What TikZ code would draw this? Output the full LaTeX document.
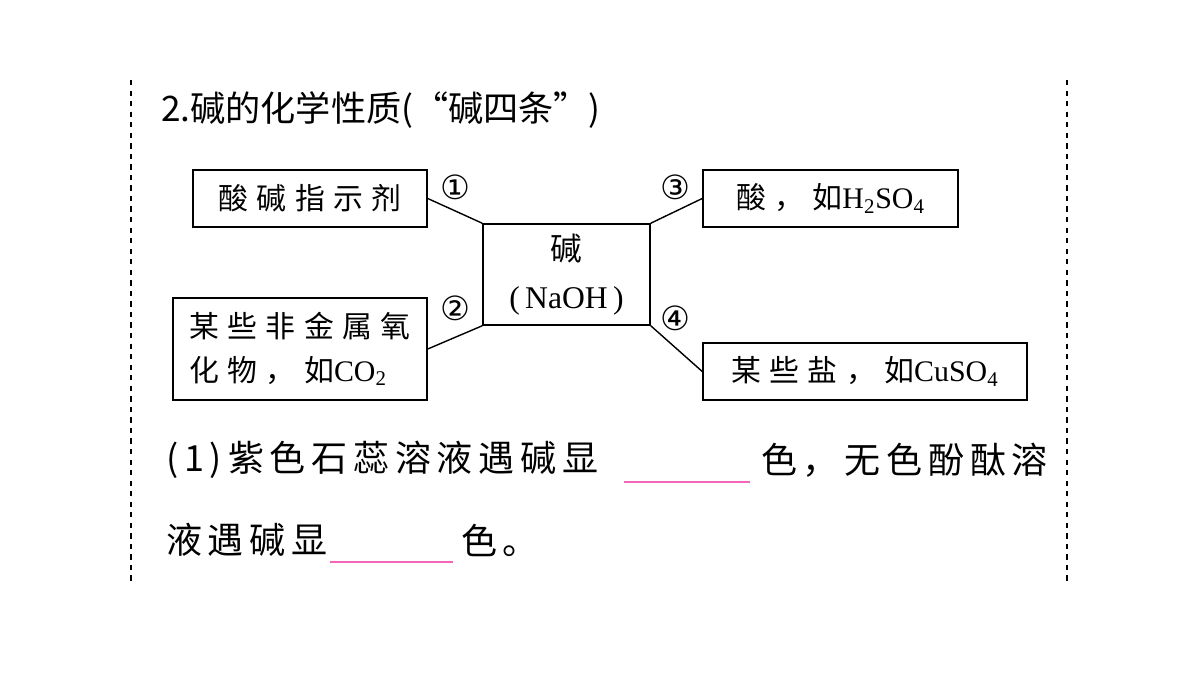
\documentclass[tikz,border=0pt]{standalone}
\usepackage{fontspec}
\setmainfont{Liberation Serif}
\newfontfamily\cjk{Noto Sans CJK SC}
\newfontfamily\cjkbox[LetterSpace=28]{Noto Sans CJK SC}
\newfontfamily\cjkbody[LetterSpace=16]{Noto Sans CJK SC}
\newfontfamily\sym{DejaVu Sans}
\usetikzlibrary{positioning}
\begin{document}
\begin{tikzpicture}[x=0.02cm,y=-0.02cm,
    box/.style={draw, line width=0.9pt, inner sep=0pt, font=\fontsize{17}{25}\selectfont},
    num/.style={font=\sym\fontsize{19}{19}\selectfont},
    txt/.style={anchor=west, font=\cjkbody\fontsize{20.5}{20.5}\selectfont},
    blank/.style={draw=magenta!60, line width=0.6pt}
  ]
  \useasboundingbox (0,0) rectangle (1200,675);
  % page edges
  \draw[dashed, line width=0.8pt] (131,80) -- (131,585);
  \draw[dashed, line width=0.8pt] (1067,80) -- (1067,585);
  \node[anchor=west, font=\cjk\fontsize{20}{20}\selectfont] (title) at (155,110) {2.碱的化学性质(“碱四条”)};

  % boxes
  \node[box, minimum width=4.68cm, minimum height=1.14cm] (indic) at (310,198.5) {\cjkbox 酸碱指示剂};
  \node[box, minimum width=3.34cm, minimum height=2.02cm, align=center, font=\fontsize{18}{27}\selectfont] (base) at (566.5,274.5) {{\cjk 碱}\\(\,NaOH\,)};
  \node[box, minimum width=5.1cm, minimum height=1.14cm] (acid) at (830.5,198.5) {{\cjkbox 酸，如}H\textsubscript{2}SO\textsubscript{4}};
  \node[box, minimum width=5.08cm, minimum height=2.04cm, align=left] (oxide) at (300,349) {{\cjkbox 某些非金属氧}\\{\cjkbox 化物，如}CO\textsubscript{2}};
  \node[box, minimum width=6.48cm, minimum height=1.14cm] (salt) at (865,371.5) {{\cjkbox 某些盐，如}CuSO\textsubscript{4}};

  % connectors
  \draw[line width=0.8pt] (indic.east) -- (base.north west);
  \draw[line width=0.8pt] (acid.west) -- (base.north east);
  \draw[line width=0.8pt] (oxide.east) -- (base.south west);
  \draw[line width=0.8pt] (salt.west) -- (base.south east);
  \node[num] (n1) at (455,187) {①};
  \node[num] (n3) at (675,187) {③};
  \node[num] (n2) at (455,308) {②};
  \node[num] (n4) at (675,318) {④};

  % question
  \node[txt] (q1) at (160,460) {(1)\,紫色石蕊溶液遇碱显};
  \node[txt] (q2) at (755,460) {色，无色酚酞溶};
  \node[txt] (q3) at (160,540) {液遇碱显};
  \node[txt] (q4) at (455,540) {色。};
  \draw[blank] (624,482) -- (750,482);
  \draw[blank] (330,562) -- (453,562);
\end{tikzpicture}
\end{document}
